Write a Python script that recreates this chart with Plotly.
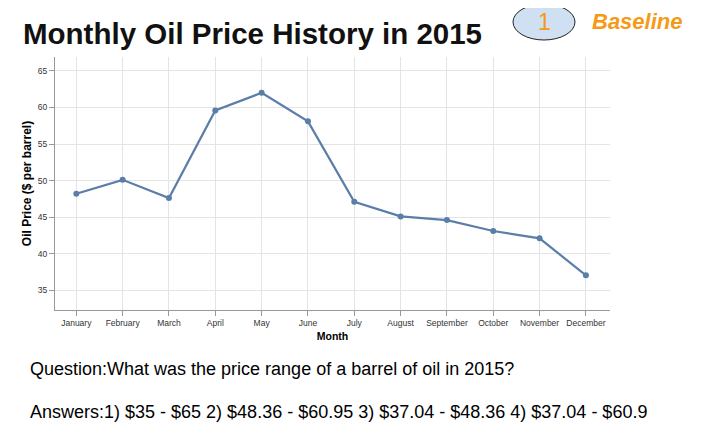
import plotly.graph_objects as go

months = ["January", "February", "March", "April", "May", "June", "July",
          "August", "September", "October", "November", "December"]
prices = [48.2, 50.1, 47.6, 59.6, 62.0, 58.1, 47.1, 45.1, 44.6, 43.1, 42.1, 37.04]
y_ticks = [35, 40, 45, 50, 55, 60, 65]

title_text = "Monthly Oil Price History in 2015"
question_text = "Question:What was the price range of a barrel of oil in 2015?"
answers_text = "Answers:1) $35 - $65 2) $48.36 - $60.95 3) $37.04 - $48.36 4) $37.04 - $60.9"

x_idx = list(range(len(months)))

# page body has an 8px margin; work in screen pixels and subtract it
OFF = 8
W, H = 710 - OFF, 437 - OFF
L, T = 55 - OFF, 57 - OFF
R = W - (610 - OFF)
B = H - (310 - OFF)

fig = go.Figure()
fig.add_trace(go.Scatter(
    x=x_idx, y=prices, mode="lines+markers",
    line=dict(color="#5b7ea8", width=2.2),
    marker=dict(color="#5b7ea8", size=6),
    hoverinfo="skip", showlegend=False,
))

FONT = "Liberation Sans, Arial, sans-serif"

fig.update_layout(
    width=W, height=H,
    margin=dict(l=L, r=R, t=T, b=B),
    paper_bgcolor="white", plot_bgcolor="white",
    font=dict(family=FONT, color="#000"),
    xaxis=dict(
        range=[-0.46, 11.52], tickmode="array", tickvals=x_idx, ticktext=months,
        showgrid=True, gridcolor="#e4e4e4", gridwidth=1,
        showline=True, linecolor="#999", linewidth=1,
        ticks="outside", ticklen=5, tickcolor="#999",
        tickfont=dict(size=8.5, color="#333"),
        title=dict(text="<b>Month</b>", font=dict(size=10.5, color="#000"), standoff=5),
        zeroline=False, fixedrange=True,
    ),
    yaxis=dict(
        range=[32.3, 66.9], tickmode="array", tickvals=y_ticks,
        showgrid=True, gridcolor="#e4e4e4", gridwidth=1,
        showline=True, linecolor="#999", linewidth=1,
        ticks="outside", ticklen=5, tickcolor="#999",
        tickfont=dict(size=8.5, color="#333"),
        title=dict(text="<b>Oil Price ($ per barrel)</b>", font=dict(size=12, color="#000"), standoff=3),
        zeroline=False, fixedrange=True,
    ),
)


def px_x(v):
    return (v - OFF - L) / (W - L - R)


def px_y(v):
    return 1 - (v - OFF - T) / (H - T - B)


# Title
fig.add_annotation(
    xref="paper", yref="paper", x=px_x(21), y=px_y(33),
    xanchor="left", yanchor="middle",
    text="<b>" + title_text + "</b>", showarrow=False,
    font=dict(size=29.5, color="#111", family=FONT),
)

# Ellipse badge
fig.add_shape(
    type="circle", xref="paper", yref="paper",
    x0=px_x(513), x1=px_x(575), y0=px_y(40), y1=px_y(4),
    fillcolor="#cfe0f3", line=dict(color="#222", width=1),
)
fig.add_annotation(
    xref="paper", yref="paper", x=px_x(544), y=px_y(22),
    xanchor="center", yanchor="middle", text="1", showarrow=False,
    font=dict(size=23, color="#f59a16", family=FONT),
)
fig.add_annotation(
    xref="paper", yref="paper", x=px_x(590), y=px_y(22),
    xanchor="left", yanchor="middle", text="<b><i>Baseline</i></b>", showarrow=False,
    font=dict(size=22, color="#f59a16", family=FONT),
)

# Question and answers
fig.add_annotation(
    xref="paper", yref="paper", x=px_x(28), y=px_y(369),
    xanchor="left", yanchor="middle", text=question_text, showarrow=False,
    font=dict(size=18, color="#000", family=FONT),
)
fig.add_annotation(
    xref="paper", yref="paper", x=px_x(28), y=px_y(412),
    xanchor="left", yanchor="middle", text=answers_text, showarrow=False,
    font=dict(size=18, color="#000", family=FONT),
)

fig.write_html("out.html", config={"displayModeBar": False})
